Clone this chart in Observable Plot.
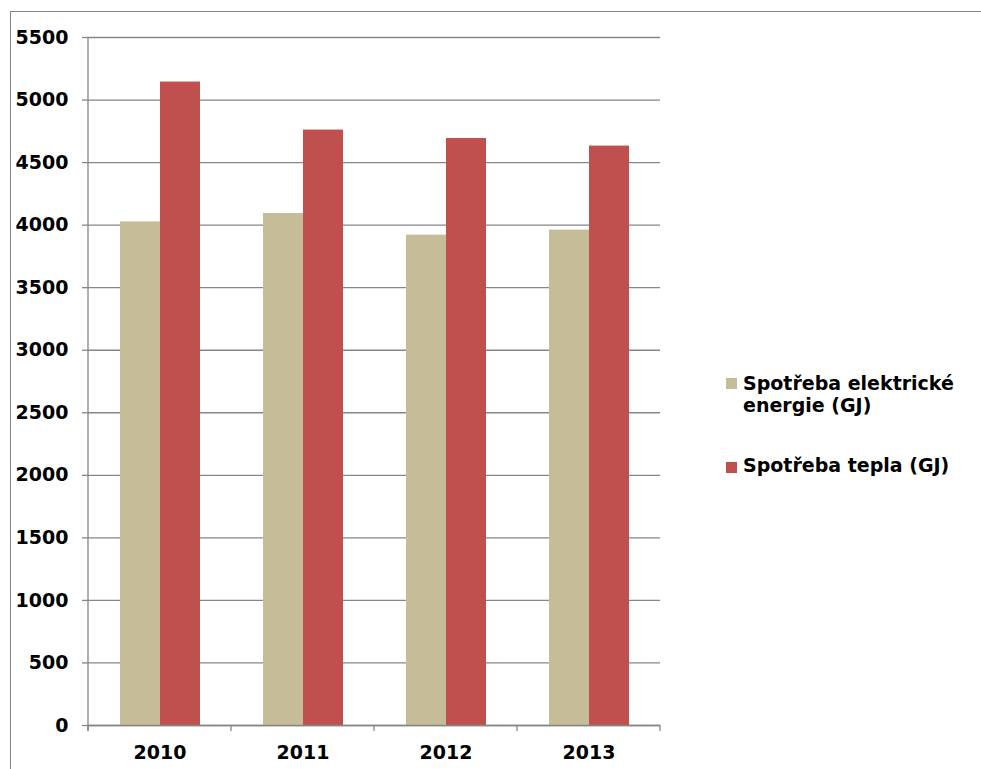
<!DOCTYPE html>
<html>
<head>
<meta charset="utf-8">
<script src="https://cdn.jsdelivr.net/npm/d3@7"></script>
<script src="https://cdn.jsdelivr.net/npm/@observablehq/plot@0.6"></script>
<style>
  body { margin: 0; background: #fff; overflow: hidden; font-family: "DejaVu Sans", Verdana, sans-serif; }
  #wrap { position: relative; width: 981px; height: 769px; overflow: hidden; }
  #frame { position: absolute; left: 10px; top: 11px; width: 1000px; height: 800px;
           border-left: 1px solid #868686; border-top: 1px solid #868686; }
  #chart { position: absolute; left: 0; top: 0; }
  .sw { position: absolute; width: 11px; height: 11px; }
  .lt { position: absolute; font-size: 19px; font-weight: bold; line-height: 22px; color: #000; white-space: nowrap; }
</style>
</head>
<body>
<div id="wrap">
  <div id="frame"></div>
  <div id="chart"></div>
  <div id="legend"></div>
</div>
<script>
const years = ["2010", "2011", "2012", "2013"];
const seriesNames = ["Spotřeba elektrické energie (GJ)", "Spotřeba tepla (GJ)"];
const legendLines = [["Spotřeba elektrické", "energie (GJ)"], ["Spotřeba tepla (GJ)"]];
const elektrina = [4026, 4093, 3920, 3960];
const teplo = [5144, 4760, 4693, 4632];
const colors = ["#C4BD97", "#C0504D"];
const yTicks = [0, 500, 1000, 1500, 2000, 2500, 3000, 3500, 4000, 4500, 5000, 5500];

const data = years.flatMap((yr, i) => [
  {year: yr, series: seriesNames[0], value: elektrina[i]},
  {year: yr, series: seriesNames[1], value: teplo[i]}
]);

const axisColor = "#868686";

const chart = Plot.plot({
  width: 981,
  height: 769,
  marginLeft: 88,
  marginRight: 321,
  marginTop: 37,
  marginBottom: 44,
  style: {fontFamily: "DejaVu Sans, Verdana, sans-serif", fontWeight: "bold", fontSize: "19px", color: "#000", background: "transparent"},
  fx: {domain: years, padding: 0, label: null},
  x: {domain: seriesNames, paddingInner: 0, paddingOuter: 0.756, axis: null},
  y: {domain: [0, 5500], label: null},
  color: {domain: seriesNames, range: colors},
  marks: [
    Plot.gridY(yTicks, {stroke: axisColor, strokeOpacity: 1, strokeWidth: 1.3}),
    Plot.barY(data, {fx: "year", x: "series", y: "value", fill: "series"}),
    Plot.ruleY([0], {stroke: axisColor, strokeWidth: 1.3}),
    Plot.axisY(yTicks, {tickSize: 6, tickPadding: 14, stroke: axisColor, strokeWidth: 1.3, fill: "#000", tickFormat: d => String(d), label: null}),
    Plot.axisFx({anchor: "bottom", tickSize: 0, tickPadding: 20, fill: "#000", label: null})
  ]
});

// axis line and category boundary ticks, positioned with the plot's own scales
const fxs = chart.scale("fx");
const ys = chart.scale("y");
const svg = d3.select(chart.tagName.toLowerCase() === "svg" ? chart : chart.querySelector("svg"));
const y0 = ys.apply(0), yTop = ys.apply(5500);
const bounds = years.map(yr => fxs.apply(yr)).concat([fxs.apply(years[years.length - 1]) + fxs.bandwidth]);
const g = svg.append("g").attr("stroke", axisColor).attr("stroke-width", 1.3);
g.append("line").attr("x1", bounds[0]).attr("x2", bounds[0]).attr("y1", yTop).attr("y2", y0 + 6);
bounds.forEach(b => g.append("line").attr("x1", b).attr("x2", b).attr("y1", y0).attr("y2", y0 + 6));

document.getElementById("chart").appendChild(chart);

// legend
const legend = document.getElementById("legend");
const entries = [{sq: 378, top: 372}, {sq: 462, top: 454}];
legendLines.forEach((lines, i) => {
  const sw = document.createElement("div");
  sw.className = "sw";
  sw.style.left = "726px";
  sw.style.top = entries[i].sq + "px";
  sw.style.background = colors[i];
  legend.appendChild(sw);
  const t = document.createElement("div");
  t.className = "lt";
  t.style.left = "743px";
  t.style.top = entries[i].top + "px";
  t.innerHTML = lines.join("<br>");
  legend.appendChild(t);
});
</script>
</body>
</html>
